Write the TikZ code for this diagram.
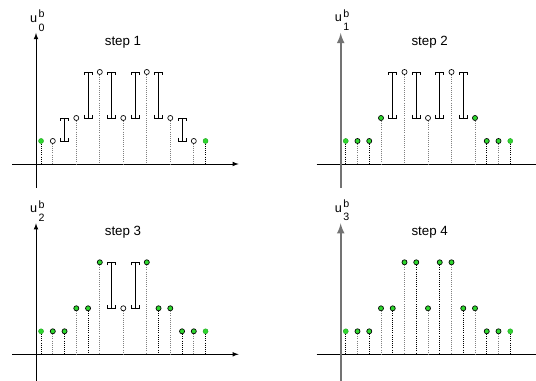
\documentclass[tikz,border=0pt]{standalone}
\usepackage{fontspec}
\setmainfont{Liberation Sans}
\definecolor{ptgreen}{HTML}{2ED82E}
\tikzset{
  axis/.style={black, line width=0.6pt, -latex},
  grayaxis/.style={black!55, line width=1.6pt, -latex},
  gdot/.style={draw, circle, fill=ptgreen, line width=0.5pt, minimum size=3.8pt, inner sep=0pt},
  edot/.style={gdot, draw=ptgreen!75!black, line width=0.3pt},
  wdot/.style={gdot, fill=white},
  stem/.style={densely dotted, line width=0.6pt},
  beam/.style={black, line width=0.6pt},
  steplabel/.style={font=\normalsize},
}
\newcommand{\ibeam}[3]{%
  \draw[beam] (#1+0.43,#2) ++(-3pt,2.25pt) -- ++(0,-2.25pt) -- ++(6pt,0) -- ++(0,2.25pt)
    (#1+0.43,#2) -- (#1+0.43,#3)
    (#1+0.43,#3) ++(-3pt,-2.25pt) -- ++(0,2.25pt) -- ++(6pt,0) -- ++(0,-2.25pt);}
\newcommand{\ulabel}[1]{{\fontsize{9.5}{10}\selectfont u}\kern1pt
  \rlap{\raisebox{3.5pt}{\fontsize{8}{9}\selectfont b}}\raisebox{-6.5pt}{\fontsize{8}{9}\selectfont #1}}
\begin{document}
\begin{tikzpicture}[x=0.75pt, y=0.75pt]
  \useasboundingbox (0,0) rectangle (536,381);

  % step 1
  \begin{scope}[shift={(36,217)}, x=8.8125pt, y=17.25pt]
    \coordinate (o1) at (0,0);
    \draw[axis] (-18pt,0) -- (152pt,0);
    \draw[axis] (0,-18pt) -- (0,98.25pt) node[above, inner sep=1pt, xshift=1pt] (lab1) {\ulabel{0}};
    \node[steplabel] (step1) at (65.25pt,91.5pt) {step 1};
    \foreach \i/\h/\s in
      {0/1/edot, 1/1/wdot, 3/2/wdot, 5/4/wdot, 7/2/wdot, 9/4/wdot, 11/2/wdot, 13/1/wdot, 14/1/edot} {
      \pgfmathtruncatemacro\k{100-50*mod(\i,2)}
      \node[\s] (d1-\i) at (\i+0.43,\h) {};
      \draw[stem, black!\k] (d1-\i) -- (d1-\i |- o1);
    }
    \foreach \i/\a/\b in {2/1/2, 4/2/4, 6/2/4, 8/2/4, 10/2/4, 12/1/2}
      \ibeam{\i}{\a}{\b};
  \end{scope}

  % step 2
  \begin{scope}[shift={(340.7,217)}, x=8.8125pt, y=17.25pt]
    \coordinate (o2) at (0,0);
    \draw[axis] (-18pt,0) -- (152pt,0);
    \draw[grayaxis] (0,-18pt) -- (0,98.25pt) node[above, inner sep=1pt, xshift=1pt, black] (lab2) {\ulabel{1}};
    \node[steplabel] (step2) at (66.75pt,91.5pt) {step 2};
    \foreach \i/\h/\s in
      {0/1/edot, 1/1/gdot, 2/1/gdot, 3/2/gdot, 5/4/wdot, 7/2/wdot, 9/4/wdot, 11/2/gdot, 12/1/gdot, 13/1/gdot, 14/1/edot} {
      \pgfmathtruncatemacro\k{100-50*mod(\i,2)}
      \node[\s] (d2-\i) at (\i+0.43,\h) {};
      \draw[stem, black!\k] (d2-\i) -- (d2-\i |- o2);
    }
    \foreach \i/\a/\b in {4/2/4, 6/2/4, 8/2/4, 10/2/4}
      \ibeam{\i}{\a}{\b};
  \end{scope}

  % step 3
  \begin{scope}[shift={(36,26.7)}, x=8.8125pt, y=17.25pt]
    \coordinate (o3) at (0,0);
    \draw[axis] (-18pt,0) -- (152pt,0);
    \draw[axis] (0,-25pt) -- (0,98.25pt) node[above, inner sep=1pt, xshift=1pt] (lab3) {\ulabel{2}};
    \node[steplabel] (step3) at (65.25pt,91.5pt) {step 3};
    \foreach \i/\h/\s in
      {0/1/edot, 1/1/gdot, 2/1/gdot, 3/2/gdot, 4/2/gdot, 5/4/gdot, 7/2/wdot, 9/4/gdot, 10/2/gdot, 11/2/gdot, 12/1/gdot, 13/1/gdot, 14/1/edot} {
      \pgfmathtruncatemacro\k{100-50*mod(\i,2)}
      \node[\s] (d3-\i) at (\i+0.43,\h) {};
      \draw[stem, black!\k] (d3-\i) -- (d3-\i |- o3);
    }
    \foreach \i/\a/\b in {6/2/4, 8/2/4}
      \ibeam{\i}{\a}{\b};
  \end{scope}

  % step 4
  \begin{scope}[shift={(340.7,26.7)}, x=8.8125pt, y=17.25pt]
    \coordinate (o4) at (0,0);
    \draw[axis] (-18pt,0) -- (152pt,0);
    \draw[grayaxis] (0,-25pt) -- (0,98.25pt) node[above, inner sep=1pt, xshift=1pt, black] (lab4) {\ulabel{3}};
    \node[steplabel] (step4) at (66.75pt,91.5pt) {step 4};
    \foreach \i/\h/\s in
      {0/1/edot, 1/1/gdot, 2/1/gdot, 3/2/gdot, 4/2/gdot, 5/4/gdot, 6/4/gdot, 7/2/gdot, 8/4/gdot, 9/4/gdot, 10/2/gdot, 11/2/gdot, 12/1/gdot, 13/1/gdot, 14/1/edot} {
      \pgfmathtruncatemacro\k{100-50*mod(\i,2)}
      \node[\s] (d4-\i) at (\i+0.43,\h) {};
      \draw[stem, black!\k] (d4-\i) -- (d4-\i |- o4);
    }
  \end{scope}
\end{tikzpicture}
\end{document}
